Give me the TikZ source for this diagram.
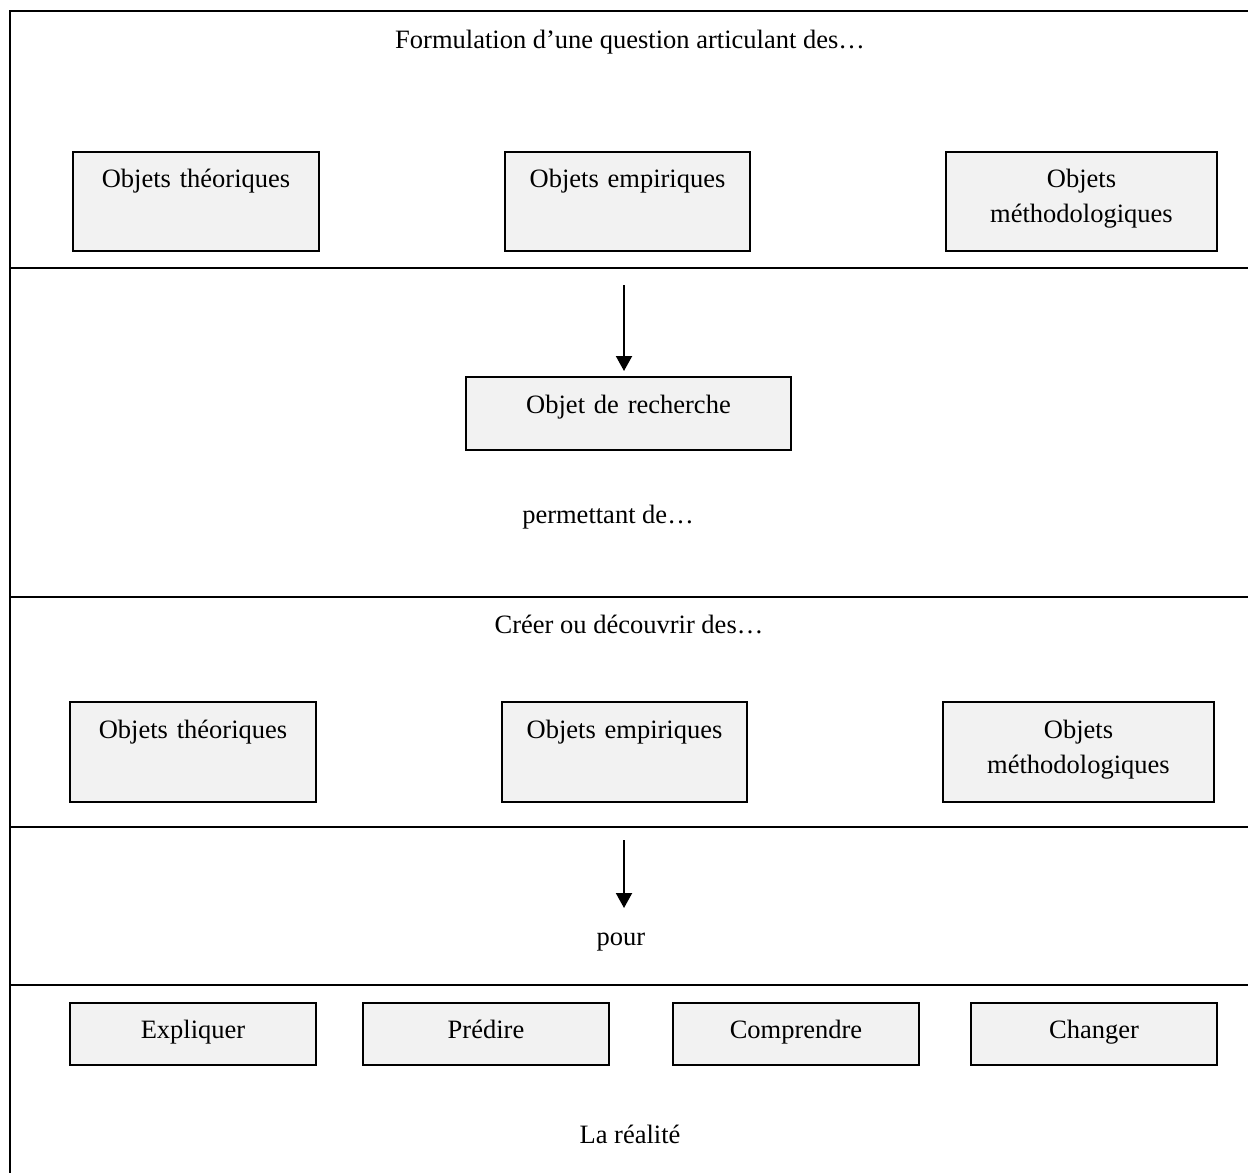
\documentclass[tikz,border=0pt]{standalone}
\usepackage{fontspec}
\setmainfont{Liberation Serif}
\usetikzlibrary{arrows.meta}
\definecolor{boxgray}{HTML}{F2F2F2}
\begin{document}
\begin{tikzpicture}[x=0.5pt,y=-0.5pt,
  every node/.style={font=\fontsize{13.25pt}{17.75pt}\selectfont},
  box/.style={draw=black, line width=1pt, fill=boxgray, inner sep=0pt, anchor=north west, align=center},
  rowA/.style={box, text height=17.5pt, text depth=32pt},
  rowB/.style={box, text height=18pt, text depth=32pt},
  rowC/.style={box, text height=17.5pt, text depth=13.5pt},
  lbl/.style={inner sep=0pt, anchor=base},
  arr/.style={line width=1pt, -{Triangle[width=8pt,length=7.5pt]}},
  frameline/.style={line width=1pt, draw=black}]
\path[use as bounding box] (0,0) rectangle (1248,1173);
\clip (0,0) rectangle (1248,1173);
% frame
\draw[frameline] (10,1200) -- (10,11) -- (1270,11);
\foreach \yy in {268,597,827,985} {\draw[frameline] (10,\yy) -- (1270,\yy);}
% section 1
\node[lbl] (title) at (630,48) {Formulation d’une question articulant des…};
\node[rowA, text width=123pt] (t1) at (72,151) {Objets théoriques};
\node[rowA, text width=122.5pt] (t2) at (504,151) {Objets empiriques};
\node[rowA, text width=135.5pt] (t3) at (945,151) {Objets\\méthodologiques};
% section 2
\coordinate (a1s) at (624,285);
\coordinate (a1e) at (624,376);
\node[box, text width=162.5pt, text height=18pt, text depth=18.5pt] (rech) at (465,376) {Objet de recherche};
\draw[arr, shorten >=2.5pt] (a1s) -- (a1e);
\node[lbl] (perm) at (608,523) {permettant de…};
% section 3
\node[lbl] (creer) at (629,633) {Créer ou découvrir des…};
\node[rowB, text width=123pt] (b1) at (69,701) {Objets théoriques};
\node[rowB, text width=122.5pt] (b2) at (501,701) {Objets empiriques};
\node[rowB, text width=135.5pt] (b3) at (942,701) {Objets\\méthodologiques};
% section 4
\coordinate (a2s) at (624,840);
\coordinate (a2e) at (624,908);
\draw[arr] (a2s) -- (a2e);
\node[lbl] (pour) at (621,945) {pour};
% section 5
\node[rowC, text width=123pt] (e1) at (69,1002) {Expliquer};
\node[rowC, text width=123pt] (e2) at (362,1002) {Prédire};
\node[rowC, text width=123pt] (e3) at (672,1002) {Comprendre};
\node[rowC, text width=123pt] (e4) at (970,1002) {Changer};
\node[lbl] (real) at (630,1143) {La réalité};
\end{tikzpicture}
\end{document}
